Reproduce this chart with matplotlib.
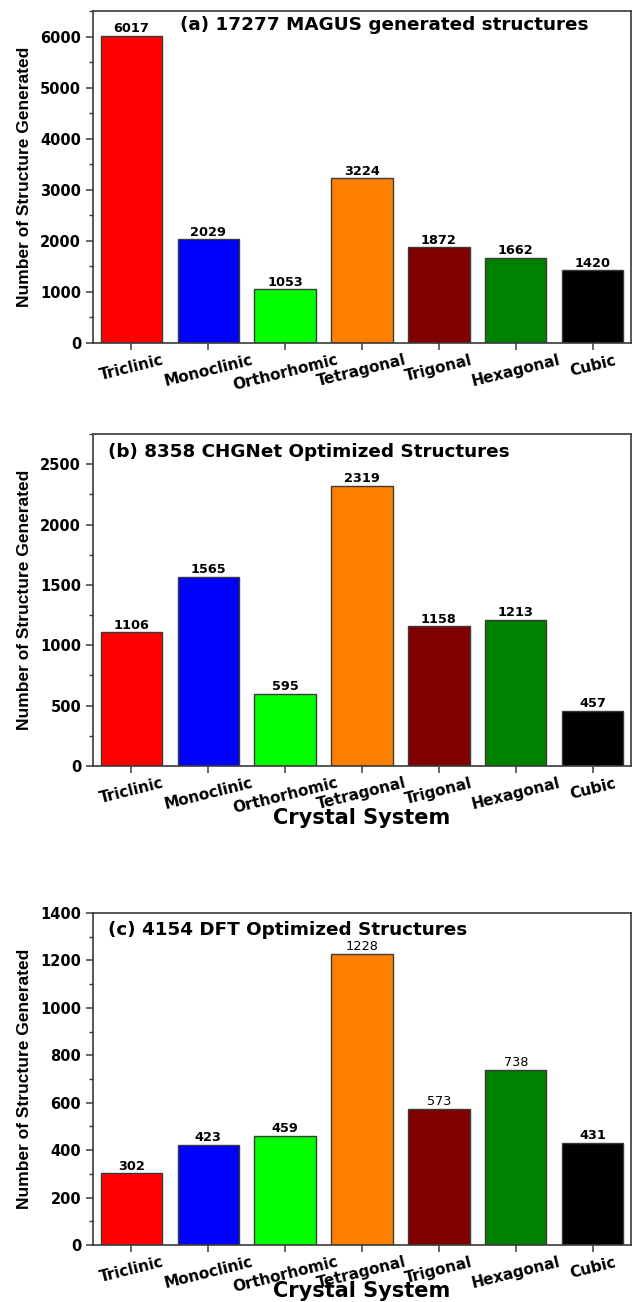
import numpy as np
import matplotlib
matplotlib.use('Agg')
import matplotlib.pyplot as plt
from matplotlib.ticker import MultipleLocator

# crystal systems and counts for each stage
systems = ['Triclinic', 'Monoclinic', 'Orthorhomic', 'Tetragonal', 'Trigonal', 'Hexagonal', 'Cubic']
magus_counts = [6017, 2029, 1053, 3224, 1872, 1662, 1420]
chgnet_counts = [1106, 1565, 595, 2319, 1158, 1213, 457]
dft_counts = [302, 423, 459, 1228, 573, 738, 431]
titles = ['(a) 17277 MAGUS generated structures',
          '(b) 8358 CHGNet Optimized Structures',
          '(c) 4154 DFT Optimized Structures']

COLORS = ['#FF0000', '#0000FF', '#00FF00', '#FF8000', '#800000', '#008000', '#000000']
EDGE = '#3a3a3a'

plt.rcParams['font.family'] = 'DejaVu Sans'

fig = plt.figure(figsize=(6.32, 13.02), dpi=100)
W, H = 632, 1302

def make_axes(top_px, bot_px, left_px=93, right_px=631):
    return fig.add_axes([left_px / W, 1 - bot_px / H, (right_px - left_px) / W, (bot_px - top_px) / H])

panels = [
    # counts, top, bottom, ymax, major, minor, title x, title y, xlabel y, light labels
    (magus_counts, 11, 343, 6500, 1000, 500, 0.162, 0.958, None, []),
    (chgnet_counts, 434, 766, 2750, 500, 250, 0.028, 0.946, -0.157, []),
    (dft_counts, 913, 1245, 1400, 200, 100, 0.028, 0.950, -0.140, [3, 4, 5]),
]

for (vals, top, bot, ymax, major, minor, tx, ty, xly, light), title in zip(panels, titles):
    ax = make_axes(top, bot)
    x = np.arange(len(systems))
    bars = ax.bar(x, vals, width=0.8, color=COLORS, edgecolor=EDGE, linewidth=1.0, zorder=2)
    for i, (bar, v) in enumerate(zip(bars, vals)):
        ax.annotate(f'{v}', (bar.get_x() + bar.get_width() / 2, v),
                    xytext=(0, 0.5), textcoords='offset points',
                    ha='center', va='bottom', fontsize=9.3,
                    fontweight='normal' if i in light else 'bold')
    ax.set_xlim(-0.5, 6.5)
    ax.set_ylim(0, ymax)
    ax.yaxis.set_major_locator(MultipleLocator(major))
    ax.yaxis.set_minor_locator(MultipleLocator(minor))
    ax.set_xticks(x)
    ax.set_xticklabels(systems, rotation=14, ha='center', fontsize=11, fontweight='bold')
    for lab in ax.get_yticklabels():
        lab.set_fontweight('bold')
        lab.set_fontsize(10.5)
    ax.tick_params(axis='both', which='major', direction='out', length=5, width=1.1, color=EDGE)
    ax.tick_params(axis='y', which='minor', direction='out', length=3, width=1.0, color=EDGE)
    ax.tick_params(axis='x', pad=2)
    for sp in ax.spines.values():
        sp.set_color(EDGE)
        sp.set_linewidth(1.2)
    ax.set_ylabel('Number of Structure Generated', fontsize=12.5, fontweight='bold',
                  family='Liberation Sans')
    ax.yaxis.set_label_coords(-0.113, 0.5)
    ax.text(tx, ty, title, transform=ax.transAxes, ha='left', va='center',
            fontsize=13.2, fontweight='bold')
    if xly is not None:
        ax.text(0.5, xly, 'Crystal System', transform=ax.transAxes, ha='center', va='center',
                fontsize=15, fontweight='bold')

fig.savefig('out.png', dpi=100)
